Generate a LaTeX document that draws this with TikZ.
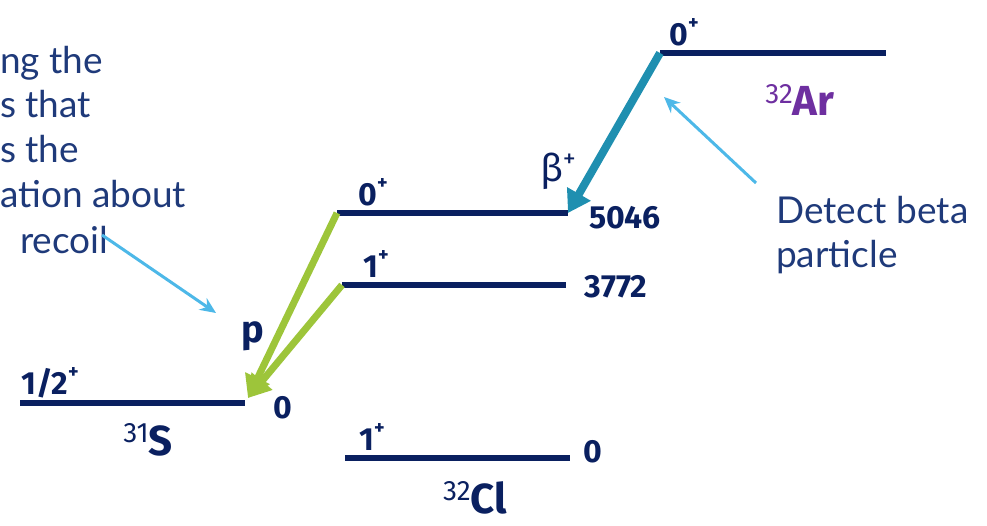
\documentclass[tikz,border=0pt]{standalone}
\usepackage{fontspec}
\setmainfont{Lato}
\newfontfamily\hand{Fira Sans}
\usetikzlibrary{arrows.meta}
\definecolor{navy}{HTML}{0A2060}
\definecolor{txtblue}{HTML}{1F3A7A}
\definecolor{teal}{HTML}{1F8FB0}
\definecolor{lgreen}{HTML}{9DC53A}
\definecolor{lblue}{HTML}{4DB8E8}
\definecolor{argon}{HTML}{6E2FA0}
\newcommand{\massno}[1]{\raisebox{0.3em}{\mdseries\fontsize{28}{28}\selectfont #1}}
\newcommand{\plussup}{\raisebox{0.5em}{\fontsize{20}{20}\selectfont +}}
\tikzset{
  level/.style={draw=navy,line width=6pt},
  lab/.style={text=navy,font=\hand\bfseries\fontsize{32}{32}\selectfont,inner sep=0pt},
  nuc/.style={text=navy,font=\hand\bfseries\fontsize{42}{42}\selectfont,inner sep=0pt},
  note/.style={text=txtblue,font=\fontsize{37}{37}\selectfont,inner sep=0pt,anchor=base west},
  betaarrow/.style={draw=teal,line width=8pt,-{Triangle[length=22pt,width=26pt]}},
  parrow/.style={draw=lgreen,line width=7pt,-{Triangle[length=22pt,width=26pt]}},
  callout/.style={draw=lblue,line width=3pt,-{Stealth[length=16pt,width=14pt]}}
}
\begin{document}
\begin{tikzpicture}[x=1pt,y=-1pt]
\useasboundingbox (0,0) rectangle (987,526);
% levels
\coordinate (ar-l) at (660,53);   \coordinate (ar-r) at (886,53);
\coordinate (b-l) at (337,213);   \coordinate (b-r) at (568,213);
\coordinate (c-l) at (342,285);   \coordinate (c-r) at (566,285);
\coordinate (s-l) at (20,403);    \coordinate (s-r) at (245,403);
\coordinate (g-l) at (345,458);   \coordinate (g-r) at (570,458);
\draw[level] (ar-l) -- (ar-r);
\draw[level] (b-l) -- (b-r);
\draw[level] (c-l) -- (c-r);
\draw[level] (s-l) -- (s-r);
\draw[level] (g-l) -- (g-r);
% spin labels
\node[lab] (arspin) at (684,32) {0\plussup};
\node[lab] (bspin) at (373,192) {0\plussup};
\node[lab] (cspin) at (376,264) {1\plussup};
\node[lab] (sspin) at (50,383) {1/2\plussup};
\node[lab] (gspin) at (372,437) {1\plussup};
% energies
\node[lab] (e5046) at (625,218) {5046};
\node[lab] (e3772) at (616,287) {3772};
\node[lab] (e0s) at (283,408) {0};
\node[lab] (e0g) at (593,452) {0};
% nuclei
\node[nuc,text=argon] (ar) at (800,100) {\massno{32}Ar};
\node[nuc] (s31) at (148,440) {\massno{31}S};
\node[nuc] (cl32) at (475,498) {\massno{32}Cl};
% decay arrows
\coordinate (stip) at (248,398);
\draw[betaarrow] (ar-l) -- (b-r);
\draw[parrow] (b-l) -- (stip);
\draw[parrow] (c-l) -- (stip);
\node[text=navy,font=\hand\fontsize{38}{38}\selectfont,inner sep=0pt] (beta) at (558,171) {β\raisebox{0.35em}{\fontsize{26}{26}\selectfont +}};
\node[lab,font=\hand\bfseries\fontsize{38}{38}\selectfont] (p) at (253,336) {p};
% notes
\node[note] (n1) at (0,74) {ng the};
\node[note] (n2) at (0,118) {s that};
\node[note] (n3) at (0,163) {s the};
\node[note] (n4) at (0,208) {ation about};
\node[note] (n5) at (20,254) {recoil};
\node[note] (d1) at (776,224) {Detect beta};
\node[note] (d2) at (776,268) {particle};
\coordinate (c1s) at (102,235);
\coordinate (c1e) at (216,313);
\coordinate (c2s) at (756,183);
\coordinate (c2e) at (664,97);
\draw[callout] (c1s) -- (c1e);
\draw[callout] (c2s) -- (c2e);
\end{tikzpicture}
\end{document}
